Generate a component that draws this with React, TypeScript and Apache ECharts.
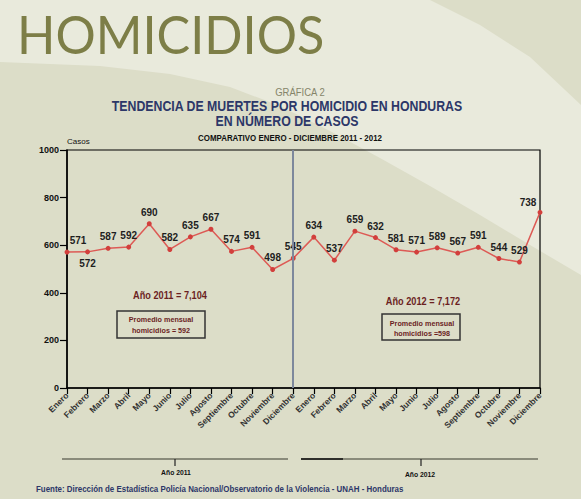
import React, { useEffect, useRef } from 'react';
import * as echarts from 'echarts';

const MONTHS = ['Enero', 'Febrero', 'Marzo', 'Abril', 'Mayo', 'Junio', 'Julio', 'Agosto', 'Septiembre', 'Octubre', 'Noviembre', 'Diciembre'];
const VALUES_2011 = [571, 572, 587, 592, 690, 582, 635, 667, 574, 591, 498, 545];
const VALUES_2012 = [634, 537, 659, 632, 581, 571, 589, 567, 591, 544, 529, 738];
const YEAR_LABELS = ['Año 2011', 'Año 2012'];
const Y_MIN = 0;
const Y_MAX = 1000;
const Y_INTERVAL = 200;

const CATEGORIES = [...MONTHS, ...MONTHS];
const VALUES = [...VALUES_2011, ...VALUES_2012];

const FONT = '"Liberation Sans", Arial, sans-serif';

const fmt = (n: number) => n.toLocaleString('en-US');

const txt = (x: number, y: number, text: string, size: number, color: string, weight: string, sx = 1, align = 'center', family = FONT, sy = 1) => ({
  type: 'text',
  x,
  y,
  scaleX: sx,
  scaleY: sy,
  silent: true,
  z: 10,
  style: {
    text,
    fill: color,
    fontSize: size,
    fontWeight: weight,
    fontFamily: family,
    align,
    textAlign: align,
    verticalAlign: 'middle',
    textVerticalAlign: 'middle',
  },
});

export default function App() {
  const ref = useRef<HTMLDivElement>(null);
  useEffect(() => {
    document.body.style.margin = '0';
    const chart = echarts.init(ref.current as HTMLDivElement, null, { renderer: 'svg' });
    const total2011 = VALUES_2011.reduce((a, b) => a + b, 0);
    const total2012 = VALUES_2012.reduce((a, b) => a + b, 0);
    const avg2011 = Math.round(total2011 / VALUES_2011.length);
    const avg2012 = Math.round(total2012 / VALUES_2012.length);

    const dark = '#6b1f1f';
    const navy = '#2c3768';

    const lightBand = [
      [0, 0], [430, 0], [480, 25], [530, 57], [581, 105],
      [581, 275], [530, 245], [480, 215], [430, 186], [380, 158], [330, 131], [280, 106], [230, 87], [170, 74], [100, 66], [0, 62],
    ];

    const lastIdx = VALUES.length - 1;

    chart.setOption({
      animation: false,
      backgroundColor: '#dcddc8',
      grid: { left: 67, right: 41, top: 150, bottom: 111, show: true, borderColor: '#000', borderWidth: 1.2, containLabel: false },
      xAxis: {
        type: 'category',
        data: CATEGORIES,
        boundaryGap: false,
        axisLine: { lineStyle: { color: '#000', width: 1.5 } },
        axisTick: { show: true, alignWithLabel: true, length: 6, lineStyle: { color: '#000', width: 1.2 } },
        axisLabel: { rotate: 45, interval: 0, fontSize: 8.5, fontWeight: 'bold', color: '#333', fontFamily: FONT, margin: 6 },
        splitLine: { show: false },
      },
      yAxis: {
        type: 'value',
        min: Y_MIN,
        max: Y_MAX,
        interval: Y_INTERVAL,
        name: 'Casos',
        nameLocation: 'end',
        nameGap: 5,
        nameTextStyle: { fontSize: 8, color: '#111', fontFamily: FONT, align: 'left' },
        axisLine: { show: true, lineStyle: { color: '#000', width: 1.5 } },
        axisTick: { show: true, length: 7, lineStyle: { color: '#000', width: 1.2 } },
        axisLabel: { fontSize: 9, fontWeight: 'bold', color: '#111', fontFamily: FONT, margin: 8, formatter: (v: number) => String(v) },
        splitLine: { show: false },
      },
      series: [
        {
          type: 'line',
          data: VALUES.map((v, i) => ({
            value: v,
            label: i === 1 ? { position: 'bottom' } : i === 0 ? { offset: [11, 0] } : i === lastIdx ? { offset: [-12, 2] } : undefined,
          })),
          symbol: 'circle',
          symbolSize: 5,
          lineStyle: { color: '#dd5a55', width: 1.5 },
          itemStyle: { color: '#d23f3c' },
          label: { show: true, position: 'top', distance: 4, fontSize: 10, fontWeight: 'bold', color: '#1e1e1e', fontFamily: FONT },
          markLine: {
            silent: true,
            symbol: 'none',
            label: { show: false },
            lineStyle: { color: '#7d889c', width: 2, type: 'solid' },
            data: [{ xAxis: VALUES_2011.length - 1 }],
          },
          z: 3,
        },
      ],
      graphic: [
        {
          type: 'polygon',
          silent: true,
          z: -10,
          shape: { points: lightBand },
          style: { fill: '#e9eadc' },
        },
        txt(17, 33, 'HOMICIDIOS', 53, '#7d7e47', 'normal', 0.95, 'left', 'Lato, "Open Sans", sans-serif'),
        txt(300, 92, 'GRÁFICA 2', 10, '#85856a', 'normal', 0.95),
        txt(287, 106, 'TENDENCIA DE MUERTES POR HOMICIDIO EN HONDURAS', 14, navy, 'bold', 0.88),
        txt(287, 121, 'EN NÚMERO DE CASOS', 14, navy, 'bold', 0.88),
        txt(290, 138, 'COMPARATIVO ENERO - DICIEMBRE 2011 - 2012', 9, '#111', 'bold', 0.88),
        // annotations
        txt(170, 295, `${YEAR_LABELS[0]} = ${fmt(total2011)}`, 10, dark, 'bold', 0.92),
        {
          type: 'rect', silent: true, z: 9,
          shape: { x: 117, y: 311, width: 88, height: 27 },
          style: { fill: 'rgba(0,0,0,0)', stroke: '#333', lineWidth: 1.5 },
        },
        txt(161, 319, 'Promedio mensual', 8, dark, 'bold', 0.9),
        txt(161, 330, `homicidios = ${avg2011}`, 8, dark, 'bold', 0.9),
        txt(423, 301, `${YEAR_LABELS[1]} = ${fmt(total2012)}`, 10, dark, 'bold', 0.92),
        {
          type: 'rect', silent: true, z: 9,
          shape: { x: 382, y: 314, width: 78, height: 26 },
          style: { fill: 'rgba(0,0,0,0)', stroke: '#333', lineWidth: 1.5 },
        },
        txt(422, 323, 'Promedio mensual', 8, dark, 'bold', 0.9),
        txt(422, 333, `homicidios =${avg2012}`, 8, dark, 'bold', 0.9),
        // year brackets
        { type: 'line', silent: true, shape: { x1: 62, y1: 459, x2: 288, y2: 459 }, style: { stroke: '#6f6f62', lineWidth: 1.5 } },
        { type: 'line', silent: true, shape: { x1: 175, y1: 459, x2: 175, y2: 466 }, style: { stroke: '#222', lineWidth: 1.2 } },
        { type: 'line', silent: true, shape: { x1: 301, y1: 459, x2: 538, y2: 459 }, style: { stroke: '#6f6f62', lineWidth: 1.5 } },
        { type: 'line', silent: true, shape: { x1: 301, y1: 459, x2: 343, y2: 459 }, style: { stroke: '#111', lineWidth: 1.5 } },
        { type: 'line', silent: true, shape: { x1: 421, y1: 459, x2: 421, y2: 466 }, style: { stroke: '#222', lineWidth: 1.2 } },
        txt(176, 472, YEAR_LABELS[0], 8, '#111', 'bold', 0.85),
        txt(420, 474, YEAR_LABELS[1], 8, '#111', 'bold', 0.85),
        txt(36, 489, 'Fuente: Dirección de Estadística Policía Nacional/Observatorio de la Violencia - UNAH - Honduras', 9, navy, 'bold', 0.88, 'left'),
      ],
    });
    return () => chart.dispose();
  }, []);
  return <div ref={ref} style={{ width: 581, height: 499 }} />;
}
